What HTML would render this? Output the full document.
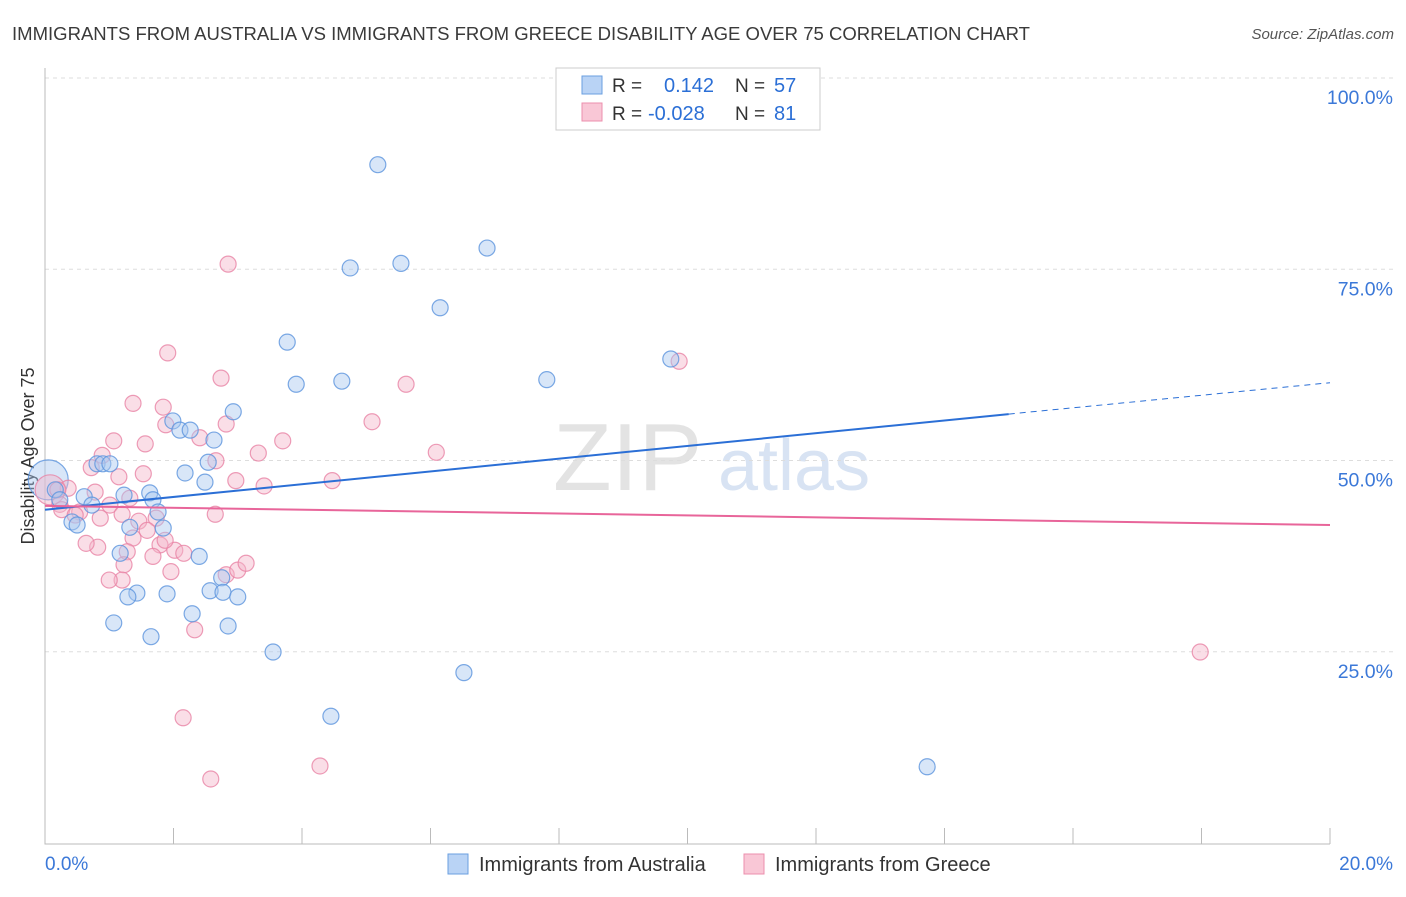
<!DOCTYPE html>
<html><head><meta charset="utf-8"><style>
body{margin:0;background:#fff;font-family:"Liberation Sans",sans-serif}
svg text{font-family:"Liberation Sans",sans-serif}
</style></head><body>
<svg id="chart" width="1406" height="892" xmlns="http://www.w3.org/2000/svg">
<text x="12" y="40" font-size="18.5" fill="#3a3a3a" textLength="1018" lengthAdjust="spacingAndGlyphs">IMMIGRANTS FROM AUSTRALIA VS IMMIGRANTS FROM GREECE DISABILITY AGE OVER 75 CORRELATION CHART</text>
<text x="1394" y="39" font-size="15" fill="#555" font-style="italic" text-anchor="end">Source: ZipAtlas.com</text>
<text transform="translate(34,456) rotate(-90)" font-size="18" fill="#333" text-anchor="middle">Disability Age Over 75</text>
<g>
<text x="553" y="490" font-size="96" fill="#ddd" font-family="Liberation Serif" opacity="0.8">ZIP</text>
<text x="718" y="490" font-size="72" fill="#c8d8ee" opacity="0.7">atlas</text>
</g>
<g id="grid"></g><g id="axes"></g><g id="pts"></g><g id="trend"></g>
<g>
<rect x="556" y="68" width="264" height="62" fill="#fff" stroke="#ccc"/>
<rect x="582" y="76" width="20" height="18" fill="#b9d3f5" stroke="#6a9fe0"/>
<rect x="582" y="103" width="20" height="18" fill="#f9c7d6" stroke="#ec8fad"/>
<text x="612" y="92" font-size="19" fill="#333">R =</text>
<text x="664" y="92" font-size="20" fill="#2b6fd6">0.142</text>
<text x="735" y="92" font-size="19" fill="#333">N =</text>
<text x="774" y="92" font-size="20" fill="#2b6fd6">57</text>
<text x="612" y="120" font-size="19" fill="#333">R =</text>
<text x="648" y="120" font-size="20" fill="#2b6fd6">-0.028</text>
<text x="735" y="120" font-size="19" fill="#333">N =</text>
<text x="774" y="120" font-size="20" fill="#2b6fd6">81</text>
</g>
<g>
<rect x="448" y="854" width="20" height="20" fill="#b9d3f5" stroke="#6a9fe0"/>
<text x="479" y="871" font-size="20" fill="#333">Immigrants from Australia</text>
<rect x="744" y="854" width="20" height="20" fill="#f9c7d6" stroke="#ec8fad"/>
<text x="775" y="871" font-size="20" fill="#333">Immigrants from Greece</text>
</g>
</svg>
<script>
const xTicksLabels=["0.0%","20.0%"];
const yTickValues=[25,50,75,100];
const blueX=[5.18,6.88,4.75,5.54,6.15,3.77,9.74,7.81,3.91,4.62,2.93,1.99,2.10,2.26,2.63,2.54,2.18,2.49,0.81,0.90,1.01,1.63,1.23,1.68,0.61,0.16,0.23,0.73,1.76,1.32,1.84,0.42,0.50,1.17,2.40,2.75,2.57,2.77,3.00,1.43,1.29,1.90,2.29,1.07,1.65,2.85,3.55,6.52,4.45,13.73];
const blueY=[88.8,77.9,75.3,75.9,70.1,65.6,63.4,60.7,60.1,60.5,56.5,55.3,54.1,54.1,52.8,49.9,48.5,47.3,49.7,49.7,49.7,45.9,45.6,45.0,45.4,46.3,45.0,44.3,43.4,41.4,41.3,42.1,41.7,38.0,37.6,34.8,33.1,32.9,32.3,32.8,32.3,32.7,30.1,28.9,27.1,28.5,25.1,22.4,16.7,10.1];
const pinkX=[2.85,1.91,2.74,5.62,9.87,1.37,1.84,5.09,1.88,2.82,2.41,1.07,3.70,0.89,1.56,3.32,6.09,2.66,0.72,1.53,1.15,2.97,4.47,3.41,0.78,0.36,0.23,0.54,0.86,1.01,1.20,1.46,1.73,2.65,1.37,1.79,2.02,2.16,0.82,0.64,1.28,1.68,1.23,1.20,1.00,1.96,2.82,3.00,3.13,2.33,2.15,2.58,4.28,17.98,0.20,0.26,0.47,1.32,1.59,1.87];
const pinkY=[75.8,64.2,60.9,60.1,63.1,57.6,57.1,55.2,54.8,54.9,53.1,52.7,52.7,50.8,52.3,51.1,51.2,50.1,49.2,48.4,48.0,47.5,47.5,46.8,46.0,46.5,44.4,43.4,42.6,44.3,43.1,42.2,42.6,43.1,40.0,39.1,38.4,38.0,38.8,39.3,38.2,37.6,36.5,34.5,34.5,35.6,35.2,35.8,36.7,28.0,16.5,8.5,10.2,25.1,46.3,43.7,43.0,45.2,41.0,39.7];
const bigBlue=[0.05,47.6];
const bigPink=[0.08,46.3];
const blueTrend=[43.7,56.2,60.3]; // at x=0, 15, 20
const pinkTrend=[44.2,41.7]; // at x=0, 20
const NS="http://www.w3.org/2000/svg";
const X=v=>45+v*64.25, Y=v=>844-v*7.65;
function mk(t,a,p){const e=document.createElementNS(NS,t);for(const k in a)e.setAttribute(k,a[k]);p.appendChild(e);return e;}
const grid=document.getElementById('grid'),axes=document.getElementById('axes'),pts=document.getElementById('pts'),tr=document.getElementById('trend');
yTickValues.forEach(v=>{
 const l=mk('line',{x1:45,x2:1393,y1:Y(v)-1,y2:Y(v)-1,stroke:'#ddd','stroke-dasharray':'4,4'},grid);
 
 
 const t=mk('text',{x:1393,y:Y(v)+25,'font-size':19.5,fill:'#3b78d8','text-anchor':'end'},grid);
 t.textContent=v.toFixed(1)+'%';
 
 
});
const ax=mk('path',{d:'M45,68 V844 H1330',stroke:'#bbb',fill:'none'},axes);


for(let i=0;i<=10;i++){const tk=mk('line',{x1:X(i*2),x2:X(i*2),y1:828,y2:844,stroke:'#bbb'},axes);
 
 }
const xl0=mk('text',{x:45,y:870,'font-size':19,fill:'#3b78d8'},axes);xl0.textContent=xTicksLabels[0];


const xl1=mk('text',{x:1393,y:870,'font-size':19,fill:'#3b78d8','text-anchor':'end'},axes);xl1.textContent=xTicksLabels[1];


function dot(x,y,r,f,s,name){const c=mk('circle',{cx:X(x),cy:Y(y),r:r,fill:f,'fill-opacity':0.45,stroke:s,'stroke-opacity':0.8,'stroke-width':1.2},pts);
 
 }
dot(bigBlue[0],bigBlue[1],20,'#a9c8f0','#5b93dd','australia-large-point');
dot(bigPink[0],bigPink[1],15,'#f5b5c9','#e883a5','greece-large-point');
pinkX.forEach((x,i)=>dot(x,pinkY[i],8,'#f5b5c9','#e883a5','greece-point'));
blueX.forEach((x,i)=>dot(x,blueY[i],8,'#a9c8f0','#5b93dd','australia-point'));
const b1=mk('line',{x1:X(0),y1:Y(blueTrend[0]),x2:X(15),y2:Y(blueTrend[1]),stroke:'#2b6fd6','stroke-width':2},tr);


const b2=mk('line',{x1:X(15),y1:Y(blueTrend[1]),x2:X(20),y2:Y(blueTrend[2]),stroke:'#2b6fd6','stroke-width':1,'stroke-dasharray':'6,5'},tr);


const p1=mk('line',{x1:X(0),y1:Y(pinkTrend[0]),x2:X(20),y2:Y(pinkTrend[1]),stroke:'#e8659a','stroke-width':2},tr);


</script>
</body></html>
